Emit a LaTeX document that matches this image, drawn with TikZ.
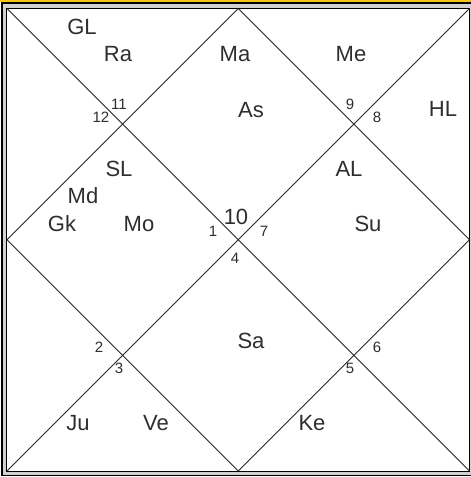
\documentclass[tikz,border=0pt]{standalone}
\usepackage{fontspec}
\setmainfont{Liberation Sans}
\definecolor{topbar}{HTML}{F5C518}
\definecolor{ink}{HTML}{2E2E2E}
\begin{document}
\begin{tikzpicture}[x=1pt,y=-1pt,
  planet/.style={font=\fontsize{22}{25}\selectfont, text=ink, inner sep=0pt, text height=15.7pt, text depth=0pt},
  num/.style={font=\fontsize{15}{18}\selectfont, text=ink, inner sep=0pt, text height=10.8pt, text depth=0pt},
  chartline/.style={line width=0.9pt, draw=black!85}]
\useasboundingbox (0,0) rectangle (471,477);
\fill[white] (0,0) rectangle (471,477);
\fill[topbar] (0,0) rectangle (471,1.6);
% frame
\fill[black!18] (1,2.2) rectangle (476,476);
\draw[line width=1.8pt, black] (1.9,3.2) rectangle (475,475.4);
\fill[white] (6.8,8.3) rectangle (469.5,471.2);
\draw[line width=1.2pt, black] (6.8,8.3) rectangle (469.5,471.2);
% chart corners and midpoints
\coordinate (A) at (7,8.5);
\coordinate (B) at (469.5,8.5);
\coordinate (C) at (469.5,471);
\coordinate (D) at (7,471);
\coordinate (T) at (238.25,8.5);
\coordinate (R) at (469.5,239.75);
\coordinate (Bm) at (238.25,471);
\coordinate (L) at (7,239.75);
\draw[chartline] (A) -- (C);
\draw[chartline] (B) -- (D);
\draw[chartline] (T) -- (R) -- (Bm) -- (L) -- cycle;
% planets
\node[planet] (gl) at (82,27) {GL};
\node[planet] (ra) at (118,54) {Ra};
\node[planet] (ma) at (235,54) {Ma};
\node[planet] (me) at (351,54) {Me};
\node[planet] (as) at (251,110) {As};
\node[planet] (hl) at (443,109) {HL};
\node[planet] (sl) at (119,169) {SL};
\node[planet] (al) at (349,169) {AL};
\node[planet] (md) at (83,196) {Md};
\node[planet] (gk) at (62,224) {Gk};
\node[planet] (mo) at (139,224) {Mo};
\node[planet] (su) at (368,224) {Su};
\node[planet] (sa) at (251,341) {Sa};
\node[planet] (ju) at (78,423) {Ju};
\node[planet] (ve) at (156,423) {Ve};
\node[planet] (ke) at (312,423) {Ke};
% house numbers
\node[num] (n11) at (119,104) {11};
\node[num] (n12) at (101,117) {12};
\node[num] (n9) at (350,104) {9};
\node[num] (n8) at (377,117) {8};
\node[planet] (n10) at (236,217) {10};
\node[num] (n1) at (213,231) {1};
\node[num] (n7) at (264,231) {7};
\node[num] (n4) at (235,258) {4};
\node[num] (n2) at (99,347) {2};
\node[num] (n3) at (119,368) {3};
\node[num] (n6) at (377,347) {6};
\node[num] (n5) at (350,368) {5};
\end{tikzpicture}
\end{document}
